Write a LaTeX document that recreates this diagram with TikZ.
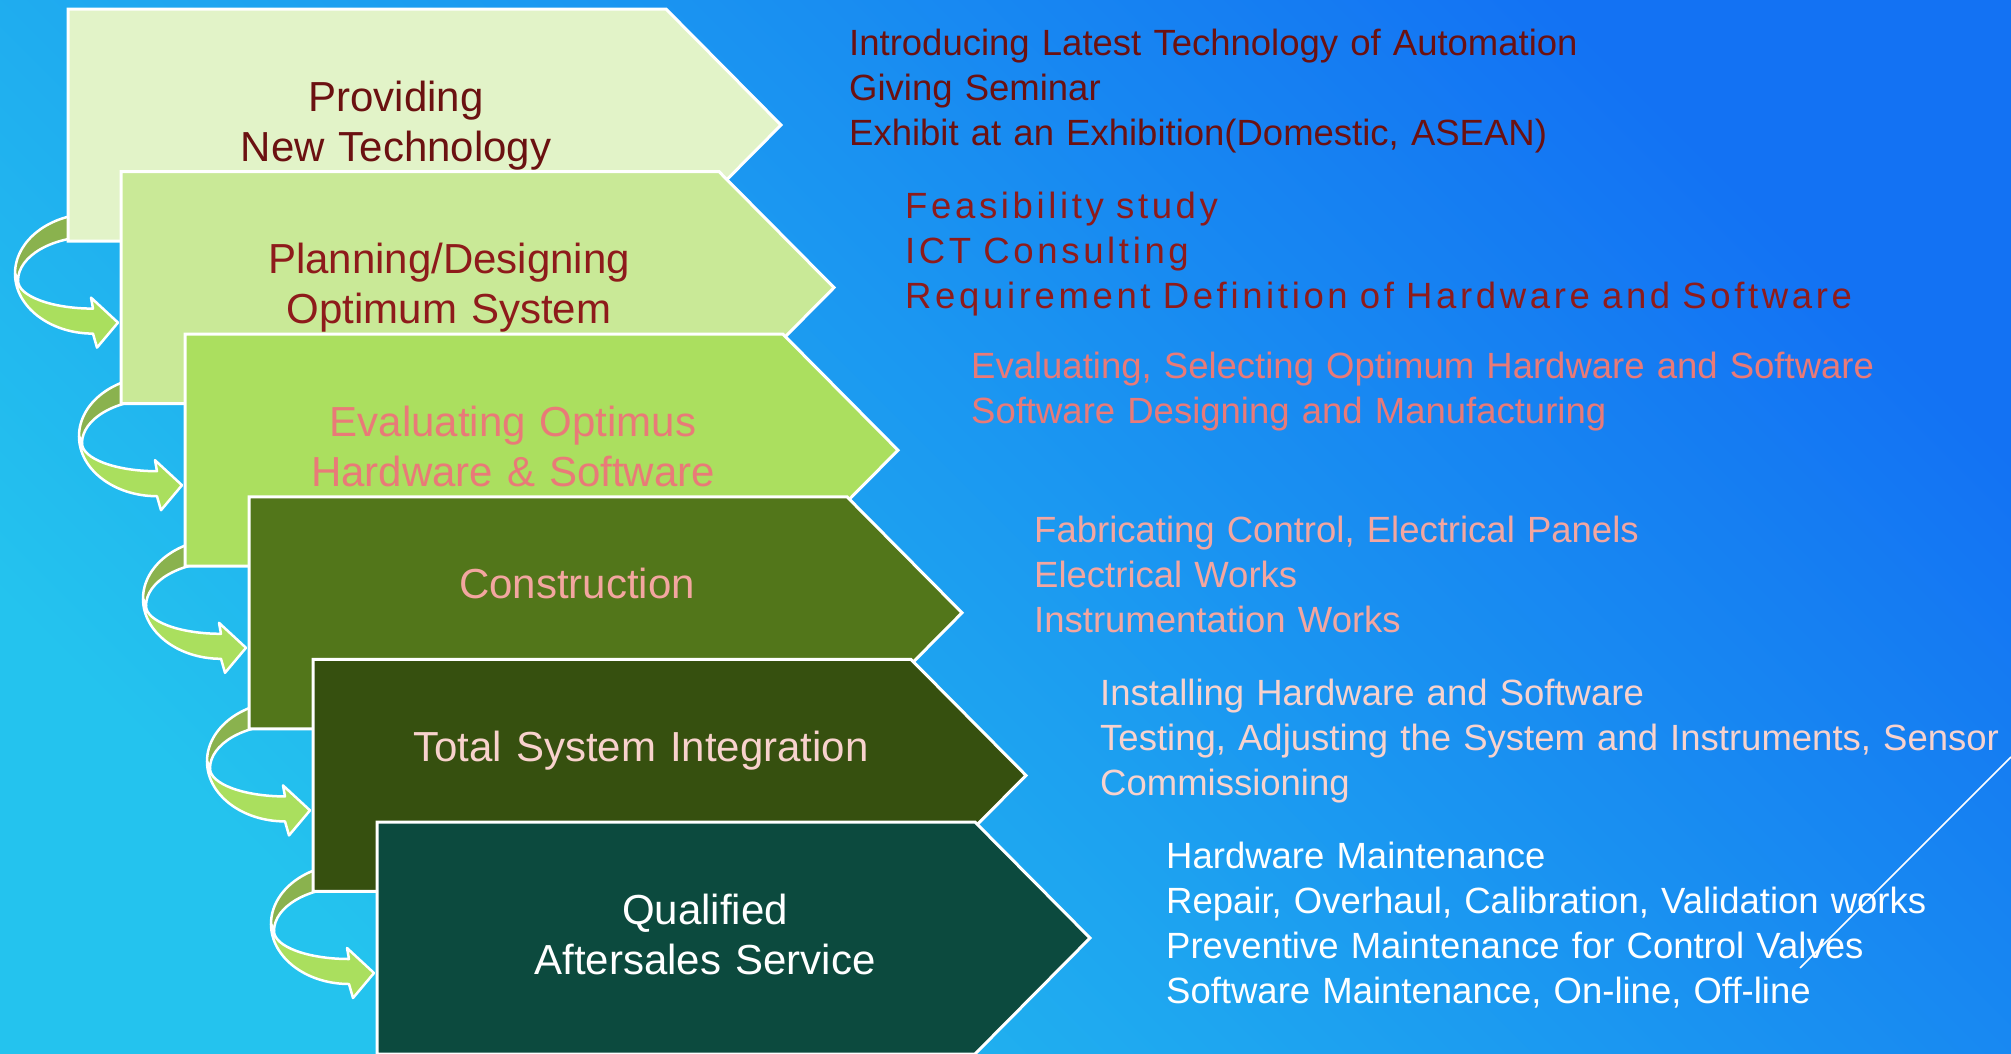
\documentclass[tikz,border=0pt]{standalone}
\usepackage{fontspec}
\setmainfont{Liberation Sans}
\definecolor{bgtop}{HTML}{1372F3}
\definecolor{bgbot}{HTML}{24C3EE}
\definecolor{boxA}{HTML}{E2F3C8}
\definecolor{boxB}{HTML}{C9E997}
\definecolor{boxC}{HTML}{ABDF5F}
\definecolor{boxD}{HTML}{52761A}
\definecolor{boxE}{HTML}{36500F}
\definecolor{boxF}{HTML}{0C4A3E}
\definecolor{txtA}{HTML}{6B1111}
\definecolor{txtB}{HTML}{8E1B1B}
\definecolor{txtC}{HTML}{E97A78}
\definecolor{txtD}{HTML}{F3A6A0}
\definecolor{txtE}{HTML}{F8D2CD}
\definecolor{arrowback}{HTML}{8AB24E}
\definecolor{arrowfront}{HTML}{AADF5E}
\begin{document}
\begin{tikzpicture}[x=1pt,y=-1pt,
	boxline/.style={draw=white,line width=3pt,line join=miter},
	arrowline/.style={draw=white,line width=2.5pt,line join=round},
	title/.style={anchor=base,inner sep=0pt,text width=640pt,align=center,font=\fontsize{42}{50}\selectfont},
	items/.style={anchor=base west,inner sep=0pt,text width=1100pt,align=left,font=\fontsize{36.5}{45}\selectfont}]
	\useasboundingbox (0,0) rectangle (2011,1053);
	\clip (0,0) rectangle (2011,1053);
	\shade[top color=bgtop,bottom color=bgbot,shading angle=-45] (0,0) rectangle (2011,1053);
	% curved arrows, given by the top left corner of the box they point to
	\foreach \L/\T in {121/171.6,185/334.2,249/496.8,313/659.4,377/822}{
		\filldraw[arrowline,fill=arrowback] (\L-28,\T+42) arc[start angle=270,end angle=180,x radius=78,y radius=60]
			-- (\L-103,\T+109) arc[start angle=180,end angle=270,x radius=75,y radius=44] -- cycle;
		\filldraw[arrowline,fill=arrowfront] (\L-106,\T+102) arc[start angle=180,end angle=90,x radius=78,y radius=60]
			-- (\L-24,\T+176) -- (\L-3,\T+151) -- (\L-30,\T+126) -- (\L-28,\T+137)
			arc[start angle=90,end angle=180,x radius=75,y radius=28] -- cycle;
	}
	% steps
	\foreach \k/\L/\T/\c/\tc/\txt in {
		1/68/9/boxA/txtA/{Providing\\New Technology},
		2/121/171.6/boxB/txtB/{Planning/Designing\\Optimum System},
		3/185/334.2/boxC/txtC/{Evaluating Optimus\\Hardware \& Software},
		4/249/496.8/boxD/txtD/{Construction},
		5/313/659.4/boxE/txtE/{Total System Integration},
		6/377/822/boxF/white/{Qualified\\Aftersales Service}}{
		\filldraw[boxline,fill=\c] (\L,\T) -- ++(598,0) -- ++(115,116) -- ++(-115,116) -- ++(-598,0) -- cycle;
		\node[title,text=\tc] (t\k) at (\L+328,\T+102) {\txt};
	}
	\node[items,text=txtA] (d1) at (849,55) {Introducing Latest Technology of Automation\\Giving Seminar\\Exhibit at an Exhibition(Domestic, ASEAN)};
	\node[items,text=txtB,font=\fontsize{36.5}{45}\selectfont\addfontfeature{LetterSpace=10}] (d2) at (905,218) {Feasibility study\\ICT Consulting\\Requirement Definition of Hardware and Software};
	\node[items,text=txtC] (d3) at (971,378) {Evaluating, Selecting Optimum Hardware and Software\\Software Designing and Manufacturing};
	\node[items,text=txtD] (d4) at (1034,542) {Fabricating Control, Electrical Panels\\Electrical Works\\Instrumentation Works};
	\node[items,text=txtE] (d5) at (1100,705) {Installing Hardware and Software\\Testing, Adjusting the System and Instruments, Sensor\\Commissioning};
	\node[items,text=white] (d6) at (1166,868) {Hardware Maintenance\\Repair, Overhaul, Calibration, Validation works\\Preventive Maintenance for Control Valves\\Software Maintenance, On-line, Off-line};
	\draw[white,line width=1.5pt] (2011,757) -- (1800,968);
\end{tikzpicture}
\end{document}
